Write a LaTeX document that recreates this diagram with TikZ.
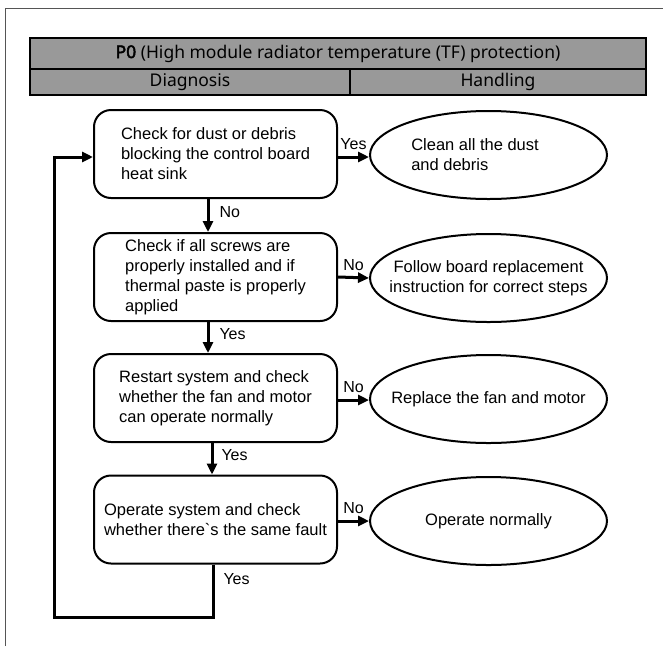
\documentclass[tikz,border=0pt]{standalone}
\usepackage{fontspec}
\setmainfont{Liberation Sans}
\newfontfamily\headfont{Noto Sans}
\newfontfamily\headboldfont[FakeBold=2.5]{Noto Sans}
\usetikzlibrary{arrows.meta,positioning,shapes.geometric}
\definecolor{hdgray}{HTML}{999999}
\definecolor{framegray}{HTML}{555555}

\begin{document}
\begin{tikzpicture}[x=1pt, y=-1pt,
    checkbox/.style={draw, line width=2pt, rectangle, rounded corners=17pt, minimum width=243pt, minimum height=88pt, inner sep=0pt, align=left, font=\fontsize{16.5}{20}\selectfont},
    actionellipse/.style={draw, line width=2pt, ellipse, minimum width=237pt, minimum height=88pt, inner xsep=-20pt, inner ysep=0pt, align=center, font=\fontsize{16.5}{20}\selectfont},
    headcell/.style={draw, line width=2pt, fill=hdgray, rectangle, inner sep=0pt, font=\headfont\fontsize{17.5}{20}\selectfont},
    flowarrow/.style={line width=3pt, -{Triangle[length=11pt, width=10pt]}},
    flowline/.style={line width=3pt},
    lbl/.style={font=\fontsize{16}{18}\selectfont, inner sep=2pt, text height=11.5pt, text depth=3pt}
  ]
    \useasboundingbox (0,0) rectangle (663,646);
    \draw[framegray, line width=1pt] (5,646) -- (5,8) -- (663,8);

    % header table
    \node[headcell, minimum width=616pt, minimum height=31pt] (title) at (338,53.5) {{\headboldfont P0} (High module radiator temperature (TF) protection)};
    \node[headcell, minimum width=320pt, minimum height=26pt] (diag) at (190,82) {Diagnosis};
    \node[headcell, minimum width=296pt, minimum height=26pt] (hand) at (498,82) {Handling};

    % diagnosis steps
    \node[checkbox] (dust) at (215.5,154) {Check for dust or debris\\blocking the control board\\heat sink};
    \node[checkbox] (screws) at (215.5,277) {Check if all screws are\\properly installed and if\\thermal paste is properly\\applied};
    \node[checkbox] (fan) at (215.5,398) {Restart system and check\\whether the fan and motor\\can operate normally};
    \node[checkbox] (fault) at (215.5,519.5) {Operate system and check\\whether there\textasciigrave s the same fault};

    % handling
    \node[actionellipse, align=left] (clean) at (488.5,155) {Clean all the dust\hspace*{27pt}\\and debris};
    \node[actionellipse] (board) at (488.5,278) {Follow board replacement\\instruction for correct steps};
    \node[actionellipse] (motor) at (488.5,399) {Replace the fan and motor};
    \node[actionellipse] (normal) at (488.5,521) {Operate normally};

    \draw[flowarrow] ([yshift=-3pt]dust.east) -- node[lbl, above, yshift=1pt] {Yes} ([yshift=-2pt]clean.west);
    \draw[flowarrow] (screws.east) -- node[lbl, above, yshift=1pt] {No} (board.west);
    \draw[flowarrow] ([yshift=-2pt]fan.east) -- node[lbl, above, yshift=1pt] {No} ([yshift=-1pt]motor.west);
    \draw[flowarrow] ([yshift=-1.5pt]fault.east) -- node[lbl, above, yshift=1pt] {No} (normal.west);

    \draw[flowarrow] ([xshift=-7.5pt]dust.south) -- node[lbl, right, xshift=8pt, yshift=2.5pt] {No} ([xshift=-7.5pt]screws.north);
    \draw[flowarrow] ([xshift=-7.5pt]screws.south) -- node[lbl, right, xshift=8pt, yshift=2.5pt] {Yes} ([xshift=-7.5pt]fan.north);
    \draw[flowarrow] ([xshift=-3.5pt]fan.south) -- node[lbl, right, xshift=6pt, yshift=2.5pt] {Yes} ([xshift=-3.5pt]fault.north);

    % back to the first check
    \coordinate (loopa) at (213,617);
    \coordinate (loopb) at (54,617);
    \draw[flowarrow] ([xshift=-2.5pt]fault.south) -- node[lbl, right, pos=0.3, xshift=7pt] {Yes} (loopa) -- (loopb) |- ([yshift=-3pt]dust.west);
\end{tikzpicture}
\end{document}
